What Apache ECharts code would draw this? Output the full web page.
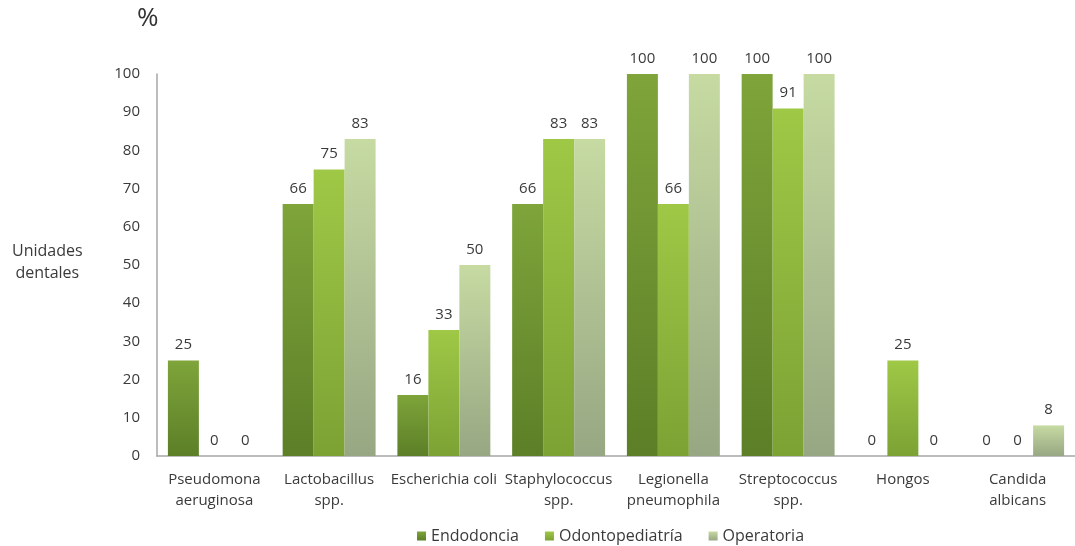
<!DOCTYPE html>
<html>
<head>
<meta charset="utf-8">
<script src="https://cdn.jsdelivr.net/npm/echarts@6/dist/echarts.min.js"></script>
<style>
  html, body { margin: 0; padding: 0; background: #fff; }
  #chart { width: 1075px; height: 546px; }
</style>
</head>
<body>
<div id="chart"></div>
<script>
// Bacterias detectadas por especialidad (% de unidades dentales)
const categories = [
  'Pseudomona\naeruginosa',
  'Lactobacillus\nspp.',
  'Escherichia coli',
  'Staphylococcus\nspp.',
  'Legionella\npneumophila',
  'Streptococcus\nspp.',
  'Hongos',
  'Candida\nalbicans'
];
const endodoncia      = [25, 66, 16, 66, 100, 100, 0, 0];
const odontopediatria = [0, 75, 33, 83, 66, 91, 25, 0];
const operatoria      = [0, 83, 50, 83, 100, 100, 0, 8];
const yTicks = { min: 0, max: 100, interval: 10 };

const FONT = '"Open Sans", "Noto Sans", sans-serif';
const TEXT = '#3a3a3a';

function grad(top, bottom) {
  return new echarts.graphic.LinearGradient(0, 0, 0, 1, [
    { offset: 0, color: top },
    { offset: 1, color: bottom }
  ]);
}

const labelCfg = {
  show: true,
  position: 'top',
  distance: 8,
  color: TEXT,
  fontFamily: FONT,
  fontSize: 15
};

const chart = echarts.init(document.getElementById('chart'));
chart.setOption({
  animation: false,
  textStyle: { fontFamily: FONT },
  grid: { left: 157, right: -10, top: 74, bottom: 90 },
  graphic: [
    { type: 'text', left: 137, top: 6,
      style: { text: '%', fontSize: 26, fill: '#333', fontFamily: FONT } },
    { type: 'text', left: 12, top: 240,
      style: { text: 'Unidades\ndentales', fontSize: 16, lineHeight: 22,
               fill: TEXT, fontFamily: FONT, textAlign: 'center', x: 38 } }
  ],
  legend: {
    top: 528,
    left: 417,
    padding: 0,
    itemWidth: 9,
    itemHeight: 9,
    itemGap: 26,
    icon: 'rect',
    textStyle: { fontSize: 16, color: TEXT, fontFamily: FONT },
    data: ['Endodoncia', 'Odontopediatría', 'Operatoria']
  },
  xAxis: {
    type: 'category',
    data: categories,
    axisLine: { lineStyle: { color: '#a6a6a6', width: 1.5 } },
    axisTick: { show: false },
    axisLabel: { color: TEXT, fontSize: 15, lineHeight: 21, margin: 13,
                 interval: 0, fontFamily: FONT }
  },
  yAxis: {
    type: 'value',
    min: yTicks.min,
    max: yTicks.max,
    interval: yTicks.interval,
    axisLine: { show: true, lineStyle: { color: '#a6a6a6', width: 1.5 } },
    axisTick: { show: false },
    splitLine: { show: false },
    axisLabel: { color: TEXT, fontSize: 15, margin: 17, fontFamily: FONT }
  },
  series: [
    { name: 'Endodoncia', type: 'bar', data: endodoncia,
      barGap: '0%', barCategoryGap: '19%',
      itemStyle: { color: grad('#7ea43a', '#5c7f27') }, label: labelCfg },
    { name: 'Odontopediatría', type: 'bar', data: odontopediatria,
      itemStyle: { color: grad('#9fc846', '#7ca234') }, label: labelCfg },
    { name: 'Operatoria', type: 'bar', data: operatoria,
      itemStyle: { color: grad('#c6daa2', '#97a783') }, label: labelCfg }
  ]
});
</script>
</body>
</html>
